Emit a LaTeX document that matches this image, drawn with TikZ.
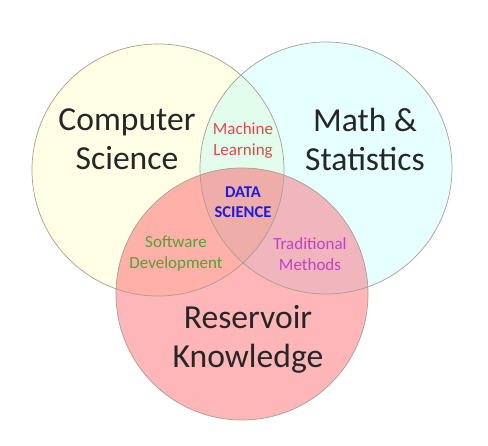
\documentclass[tikz,border=0pt]{standalone}
\usepackage{fontspec}
\setmainfont{Carlito}
\definecolor{cyel}{HTML}{FFFFE6}
\definecolor{ccya}{HTML}{E6FFFF}
\definecolor{cpnk}{HTML}{FFB6B9}
\definecolor{clr}{HTML}{E3FDEC}
\definecolor{clb}{HTML}{FFB0A8}
\definecolor{crb}{HTML}{F0B5BD}
\definecolor{clrb}{HTML}{EFADAA}
\definecolor{tred}{HTML}{E04848}
\definecolor{tblue}{HTML}{1C1CE0}
\definecolor{tgreen}{HTML}{5A9E36}
\definecolor{tpurple}{HTML}{C040C8}
\definecolor{edge}{HTML}{A8A090}
\begin{document}
\begin{tikzpicture}[x=1pt,y=-1pt,
  bigtxt/.style={align=center,font=\fontsize{33.6}{39}\selectfont,text=black!85},
  smalltxt/.style={align=center,font=\fontsize{17}{21}\selectfont},
  ring/.style={draw=edge,line width=0.7pt}]
\useasboundingbox (0,0) rectangle (488,446);
\fill[white] (0,0) rectangle (488,446);
\def\rad{126}
\coordinate (L) at (158,170);
\coordinate (R) at (326,168);
\coordinate (B) at (242,294);
\fill[cyel] (L) circle (\rad);
\fill[ccya] (R) circle (\rad);
\fill[cpnk] (B) circle (\rad);
\begin{scope}
  \clip (L) circle (\rad);
  \fill[clr] (R) circle (\rad);
  \fill[clb] (B) circle (\rad);
  \clip (R) circle (\rad);
  \fill[clrb] (B) circle (\rad);
\end{scope}
\begin{scope}
  \clip (R) circle (\rad);
  \clip (B) circle (\rad);
  \fill[crb] (B) circle (\rad);
  \clip (L) circle (\rad);
  \fill[clrb] (B) circle (\rad);
\end{scope}
\draw[ring] (L) circle (\rad);
\draw[ring] (R) circle (\rad);
\draw[ring] (B) circle (\rad);
\node[bigtxt] (cs) at (127,139.5) {Computer\\Science};
\node[bigtxt] (ms) at (365,139.5) {Math \&\\Statistics};
\node[bigtxt] (rk) at (248,339.5) {Reservoir\\Knowledge};
\node[smalltxt,text=tred] (ml) at (243,141) {Machine\\Learning};
\node[smalltxt,text=tblue,font=\fontsize{16.5}{20}\selectfont\bfseries] (ds) at (243,202) {DATA\\SCIENCE};
\node[smalltxt,text=tgreen] (sd) at (176,254) {Software\\Development};
\node[smalltxt,text=tpurple] (tm) at (310,254) {Traditional\\Methods};
\end{tikzpicture}
\end{document}
